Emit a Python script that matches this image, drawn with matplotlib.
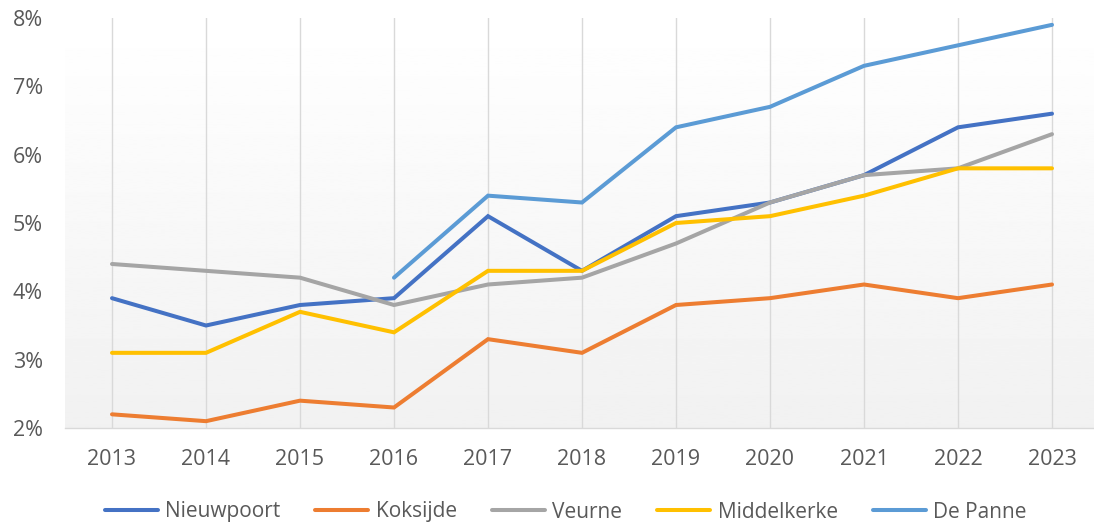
import numpy as np
import matplotlib
matplotlib.use("Agg")
import matplotlib.pyplot as plt
from matplotlib.ticker import FuncFormatter

years = [2013, 2014, 2015, 2016, 2017, 2018, 2019, 2020, 2021, 2022, 2023]
nieuwpoort = [3.9, 3.5, 3.8, 3.9, 5.1, 4.3, 5.1, 5.3, 5.7, 6.4, 6.6]
koksijde = [2.2, 2.1, 2.4, 2.3, 3.3, 3.1, 3.8, 3.9, 4.1, 3.9, 4.1]
veurne = [4.4, 4.3, 4.2, 3.8, 4.1, 4.2, 4.7, 5.3, 5.7, 5.8, 6.3]
middelkerke = [3.1, 3.1, 3.7, 3.4, 4.3, 4.3, 5.0, 5.1, 5.4, 5.8, 5.8]
de_panne = [np.nan, np.nan, np.nan, 4.2, 5.4, 5.3, 6.4, 6.7, 7.3, 7.6, 7.9]

series = [
    ("Nieuwpoort", nieuwpoort, "#4472C4"),
    ("Koksijde", koksijde, "#ED7D31"),
    ("Veurne", veurne, "#A5A5A5"),
    ("Middelkerke", middelkerke, "#FFC000"),
    ("De Panne", de_panne, "#5B9BD5"),
]

plt.rcParams['font.family'] = ['Open Sans', 'DejaVu Sans']

fig = plt.figure(figsize=(10.94, 5.30), dpi=100)
ax = fig.add_axes([65 / 1094, 102 / 530, 1029 / 1094, 410 / 530])

# background: white at the top fading to light grey at the bottom
grad = np.linspace(0.945, 1.0, 256).reshape(-1, 1)
ax.imshow(grad, extent=[0, 1, 0, 1], transform=ax.transAxes, cmap="gray",
          vmin=0, vmax=1, aspect="auto", origin="lower", zorder=0)

x = np.arange(len(years))
for name, vals, col in series:
    ax.plot(x, vals, color=col, lw=2.9, label=name, solid_capstyle="round",
            solid_joinstyle="miter", zorder=3)

ax.set_xlim(-0.5, -0.5 + 1029 / 94)
ax.set_ylim(2, 8)
ax.set_xticks(x)
ax.set_xticklabels([str(y) for y in years])
ax.set_yticks(range(2, 9))
ax.yaxis.set_major_formatter(FuncFormatter(lambda v, p: f"{int(v)}%"))

for xi in x:
    ax.axvline(xi, color="#D9D9D9", lw=1.0, zorder=1)

for s in ["top", "right", "left"]:
    ax.spines[s].set_visible(False)
ax.spines["bottom"].set_color("#D9D9D9")
ax.spines["bottom"].set_linewidth(1.0)
ax.tick_params(length=0, labelsize=15.5, labelcolor="#595959")
ax.tick_params(axis="x", pad=15)
ax.tick_params(axis="y", pad=16)

fig.legend(loc="center", bbox_to_anchor=(0.517, 18 / 530), ncol=5,
           frameon=False, fontsize=15, handlelength=2.55, columnspacing=1.68,
           handletextpad=0.35, labelcolor="#595959")

fig.savefig("out.png", dpi=100)
